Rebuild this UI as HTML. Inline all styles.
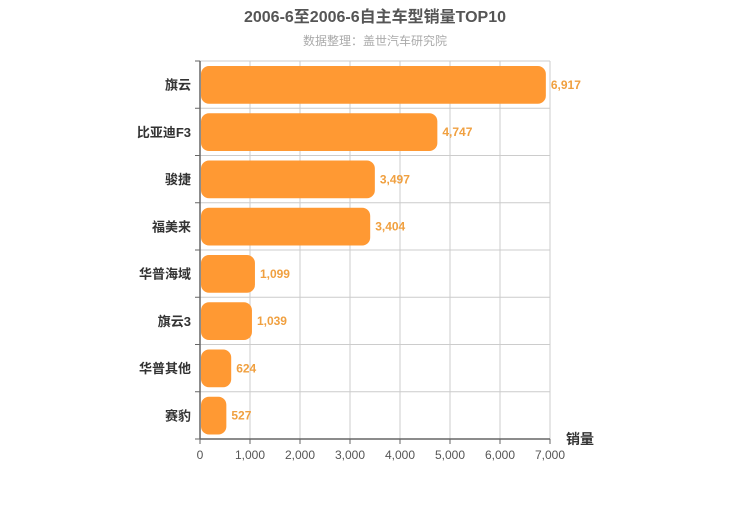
<!DOCTYPE html>
<html><head><meta charset="utf-8"><style>
body{margin:0;background:#fff;}
svg text{font-family:"Liberation Sans","Noto Sans CJK SC",sans-serif;}
</style></head><body>
<svg width="750" height="500" xmlns="http://www.w3.org/2000/svg">
<text x="375" y="22" text-anchor="middle" font-size="16" font-weight="bold" fill="#555">2006-6至2006-6自主车型销量TOP10</text>
<text x="375" y="45" text-anchor="middle" font-size="12" fill="#aaa">数据整理：盖世汽车研究院</text>
<g id="grid"></g><g id="bars"></g><g id="axes"></g>
<text x="580" y="444" text-anchor="middle" font-size="14" font-weight="bold" fill="#333">销量</text>
</svg>
<script>
const categories=["旗云","比亚迪F3","骏捷","福美来","华普海域","旗云3","华普其他","赛豹"];
const values=[6917,4747,3497,3404,1099,1039,624,527];
const ticks=[0,1000,2000,3000,4000,5000,6000,7000];
const X0=200,X1=550,Y0=61,Y1=439,MAX=7000;
const x=v=>X0+(v/MAX)*(X1-X0);
const rowH=(Y1-Y0)/categories.length;
const y=i=>Y0+i*rowH;
const NS="http://www.w3.org/2000/svg";
function mk(t,a,p){const e=document.createElementNS(NS,t);for(const k in a)e.setAttribute(k,a[k]);p.appendChild(e);return e;}
const grid=document.getElementById('grid'),bars=document.getElementById('bars'),axes=document.getElementById('axes');
ticks.forEach(t=>{
 const l=mk('line',{x1:x(t),x2:x(t),y1:Y0,y2:Y1,stroke:'#ccc','stroke-width':1},grid);
 
 
 mk('line',{x1:x(t),x2:x(t),y1:Y1,y2:Y1+5,stroke:'#666'},axes);
 const tx=mk('text',{x:x(t),y:Y1+20,'text-anchor':'middle','font-size':12,fill:'#555'},axes);
 tx.textContent=t.toLocaleString('en-US');
 
 
});
for(let i=0;i<=categories.length;i++){
 const l=mk('line',{x1:X0,x2:X1,y1:y(i),y2:y(i),stroke:'#ccc'},grid);
 
 
 mk('line',{x1:X0-5,x2:X0,y1:y(i),y2:y(i),stroke:'#666'},axes);
}
categories.forEach((c,i)=>{
 const top=y(i)+5,h=rowH-9.5;
 const r=mk('rect',{x:X0+1,y:top,width:Math.max(0,x(values[i])-X0-1),height:h,rx:8,ry:8,fill:'#ff9933'},bars);
 
 
 const v=mk('text',{x:x(values[i])+5,y:top+h/2+4,'font-size':12,'font-weight':'bold',fill:'#f0a040'},bars);
 v.textContent=values[i].toLocaleString('en-US');
 
 
 const cl=mk('text',{x:X0-9,y:y(i)+rowH/2+5,'text-anchor':'end','font-size':13,'font-weight':'bold',fill:'#333'},axes);
 cl.textContent=c;
 
 
});
mk('line',{x1:X0,x2:X0,y1:Y0,y2:Y1,stroke:'#666','stroke-width':1.5},axes);
mk('line',{x1:X0,x2:X1,y1:Y1,y2:Y1,stroke:'#666','stroke-width':1.5},axes);
</script>
</body></html>
